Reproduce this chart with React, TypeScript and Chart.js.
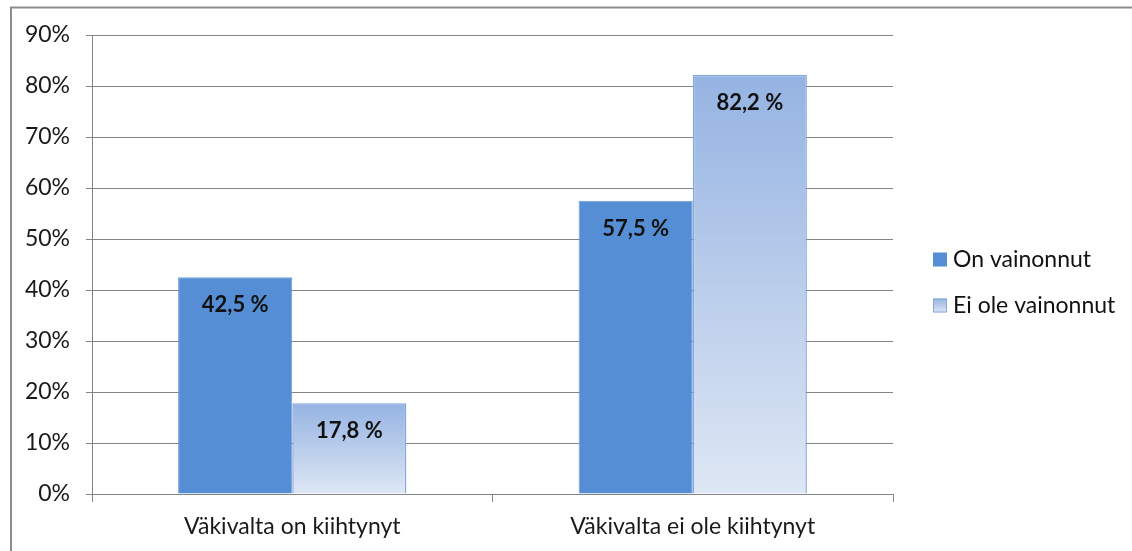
import { useEffect, useRef } from "react";
import { Chart, registerables } from "chart.js";

Chart.register(...registerables);

const categories = ["Väkivalta on kiihtynyt", "Väkivalta ei ole kiihtynyt"];
const seriesNames = ["On vainonnut", "Ei ole vainonnut"];
const onVainonnut = [42.5, 57.5];
const eiOleVainonnut = [17.8, 82.2];
const yTickValues = [0, 10, 20, 30, 40, 50, 60, 70, 80, 90];

const FONT = "Lato, 'Open Sans', sans-serif";
const GRID = "#858585";
const SOLID = "#558ED5";
const SOLID_BORDER = "#6B9CDA";
const GRAD_TOP = "#95B3E2";
const GRAD_BOTTOM = "#DEE7F4";
const GRAD_BORDER = "#86A8DC";

const fmt = (v: number) => v.toFixed(1).replace(".", ",") + " %";

const framePlugin = {
  id: "frame",
  beforeDraw(chart: any) {
    const ctx = chart.ctx;
    ctx.save();
    ctx.strokeStyle = "#8c8c8c";
    ctx.lineWidth = 2;
    ctx.beginPath();
    ctx.moveTo(11, chart.height);
    ctx.lineTo(11, 7.5);
    ctx.lineTo(chart.width, 7.5);
    ctx.stroke();
    ctx.restore();
  },
};

const labelPlugin = {
  id: "barLabels",
  afterDatasetsDraw(chart: any) {
    const ctx = chart.ctx;
    ctx.save();
    ctx.font = `bold 22px ${FONT}`;
    ctx.fillStyle = "#111";
    ctx.textAlign = "center";
    ctx.textBaseline = "middle";
    chart.data.datasets.forEach((ds: any, di: number) => {
      const meta = chart.getDatasetMeta(di);
      meta.data.forEach((bar: any, i: number) => {
        ctx.fillText(fmt(ds.data[i]), bar.x, bar.y + 28);
      });
    });
    ctx.restore();
  },
};

const legendPlugin = {
  id: "customLegend",
  afterDraw(chart: any) {
    const ctx = chart.ctx;
    const area = chart.chartArea;
    const x = area.right + 40;
    const mid = (area.top + area.bottom) / 2;
    const ys = [mid - 5, mid + 41];
    ctx.save();
    ctx.font = `23px ${FONT}`;
    ctx.textBaseline = "middle";
    ctx.textAlign = "left";
    seriesNames.forEach((name, i) => {
      const y = ys[i];
      const bx = x, by = y - 7, s = 14;
      if (i === 0) {
        ctx.fillStyle = SOLID;
        ctx.fillRect(bx, by, s, s);
      } else {
        const g = ctx.createLinearGradient(0, by, 0, by + s);
        g.addColorStop(0, GRAD_TOP);
        g.addColorStop(1, GRAD_BOTTOM);
        ctx.fillStyle = g;
        ctx.fillRect(bx, by, s, s);
        ctx.strokeStyle = GRAD_BORDER;
        ctx.lineWidth = 1;
        ctx.strokeRect(bx + 0.5, by + 0.5, s - 1, s - 1);
      }
      ctx.fillStyle = "#111";
      ctx.fillText(name, bx + s + 6, y);
    });
    ctx.restore();
  },
};

export default function App() {
  const ref = useRef<HTMLCanvasElement>(null);

  useEffect(() => {
    if (!ref.current) return;
    const chart = new Chart(ref.current, {
      type: "bar",
      data: {
        labels: categories,
        datasets: [
          {
            label: seriesNames[0],
            data: onVainonnut,
            backgroundColor: SOLID,
            borderColor: SOLID_BORDER,
            borderWidth: 1,
            categoryPercentage: 0.57,
            barPercentage: 1,
          },
          {
            label: seriesNames[1],
            data: eiOleVainonnut,
            backgroundColor: (c: any) => {
              const chart = c.chart;
              const area = chart.chartArea;
              if (!area || c.type !== "data") return GRAD_TOP;
              const y = chart.scales.y;
              const top = y.getPixelForValue(c.raw);
              const base = y.getPixelForValue(0);
              const g = chart.ctx.createLinearGradient(0, top, 0, base);
              g.addColorStop(0, GRAD_TOP);
              g.addColorStop(1, GRAD_BOTTOM);
              return g;
            },
            borderColor: GRAD_BORDER,
            borderWidth: 1.5,
            categoryPercentage: 0.57,
            barPercentage: 1,
          },
        ],
      },
      options: {
        responsive: false,
        animation: false,
        devicePixelRatio: 1,
        layout: { padding: { left: 10, top: 35, right: 239, bottom: 0 } },
        plugins: {
          legend: { display: false },
          tooltip: { enabled: false },
        },
        scales: {
          x: {
            type: "category",
            offset: true,
            grid: {
              display: true,
              drawOnChartArea: false,
              drawTicks: true,
              tickLength: 8,
              offset: true,
              color: GRID,
            },
            border: { display: true, color: GRID, width: 1 },
            ticks: {
              font: { family: FONT, size: 23 },
              color: "#1a1a1a",
              padding: 11,
              maxRotation: 0,
            },
            afterFit: (s: any) => {
              s.height = 57;
            },
          },
          y: {
            min: 0,
            max: 90,
            afterBuildTicks: (s: any) => {
              s.ticks = yTickValues.map((v) => ({ value: v }));
            },
            grid: {
              color: GRID,
              tickLength: 6,
              drawTicks: true,
            },
            border: { display: true, color: GRID, width: 1 },
            ticks: {
              font: { family: FONT, size: 23 },
              color: "#1a1a1a",
              padding: 16,
              callback: (v: any) => `${v}%`,
            },
            afterFit: (s: any) => {
              s.width = 82;
            },
          },
        },
      },
      plugins: [framePlugin, labelPlugin, legendPlugin],
    });
    return () => chart.destroy();
  }, []);

  return (
    <div style={{ position: "fixed", left: 0, top: 0, width: 1132, height: 551, background: "#fff" }}>
      <canvas ref={ref} width={1132} height={551} style={{ width: 1132, height: 551 }} />
    </div>
  );
}
